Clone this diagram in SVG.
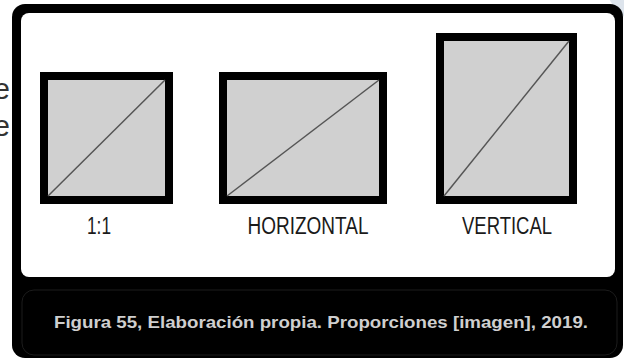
<svg xmlns="http://www.w3.org/2000/svg" width="624" height="360" viewBox="0 0 624 360">
<style>
.box{fill:#d0d0d0;stroke:#000;stroke-width:8}
.diag{stroke:#555;stroke-width:1.5;fill:none}
.lbl{font-family:"Liberation Sans",Arial,sans-serif;font-size:23px;fill:#1a1a1a}
.cap{font-family:"Liberation Sans",Arial,sans-serif;font-size:17px;font-weight:bold;fill:#cfcfcf}
.side{font-family:"Liberation Sans",Arial,sans-serif;font-size:29px;fill:#333}
</style>
<rect width="624" height="360" fill="#fff"/>
<circle cx="650" cy="-20" r="45" fill="#dde4ec"/>
<text class="side" x="10" y="99" text-anchor="end">e</text>
<text class="side" x="10" y="136" text-anchor="end">e</text>
<rect x="12" y="4" width="611" height="354" rx="13" fill="#000"/>
<rect x="21" y="13" width="594" height="264" rx="8" fill="#fff"/>
<rect x="22" y="290" width="595" height="65" rx="12" fill="none" stroke="#1c1c1c" stroke-width="1"/>
<g id="square">
<rect class="box" x="44" y="76" width="125" height="124"/>
<line class="diag" x1="48" y1="196" x2="165" y2="80"/>
<text class="lbl" x="99" y="234" text-anchor="middle" textLength="24" lengthAdjust="spacingAndGlyphs">1:1</text>
</g>
<g id="horizontal">
<rect class="box" x="223" y="76" width="160" height="124"/>
<line class="diag" x1="227" y1="196" x2="379" y2="80"/>
<text class="lbl" x="308" y="234" text-anchor="middle" textLength="121" lengthAdjust="spacingAndGlyphs">HORIZONTAL</text>
</g>
<g id="vertical">
<rect class="box" x="440" y="37" width="133" height="163"/>
<line class="diag" x1="444" y1="196" x2="569" y2="41"/>
<text class="lbl" x="507" y="234" text-anchor="middle" textLength="90" lengthAdjust="spacingAndGlyphs">VERTICAL</text>
</g>
<g id="connectors"></g>
<text class="cap" x="321" y="328" text-anchor="middle" textLength="534" lengthAdjust="spacingAndGlyphs">Figura 55, Elaboración propia. Proporciones [imagen], 2019.</text>
</svg>
